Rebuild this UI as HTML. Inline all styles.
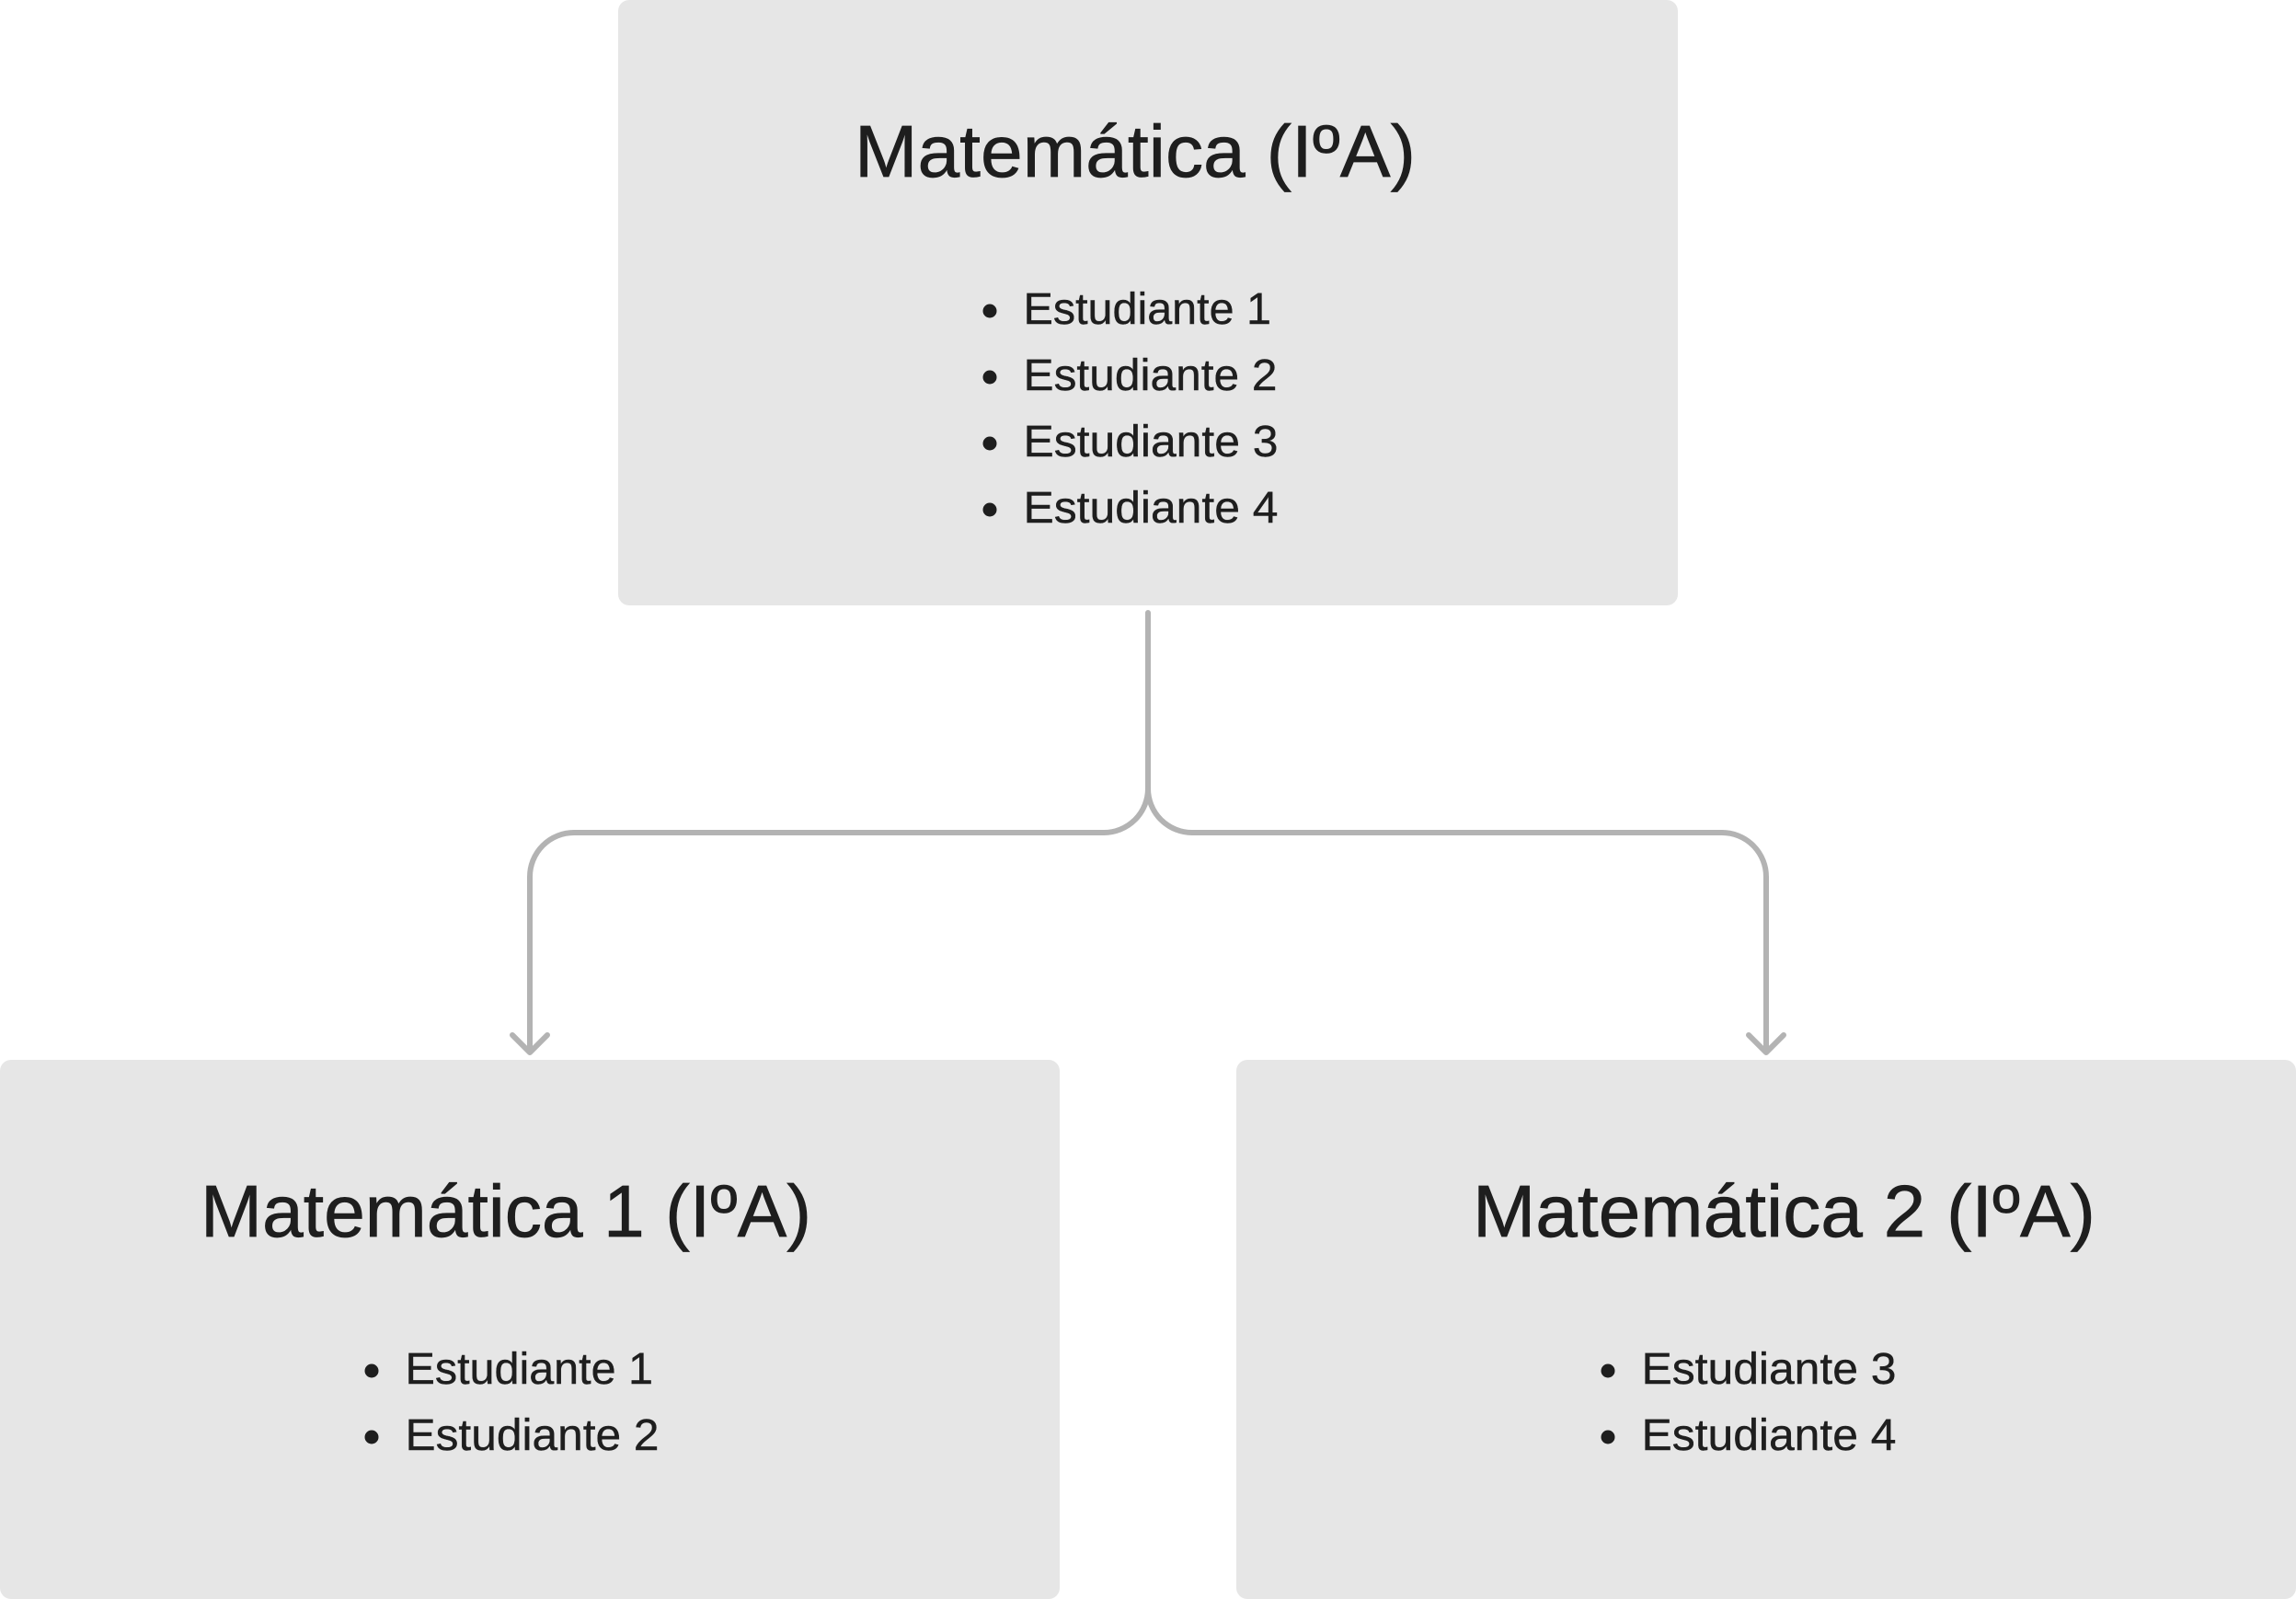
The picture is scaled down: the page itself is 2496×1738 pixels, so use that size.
<!DOCTYPE html>
<html lang="pt">
<head>
<meta charset="utf-8">
<title>Matemática (IºA)</title>
<style>
html,body{margin:0;padding:0;background:#fff;width:2496px;height:1738px;overflow:hidden}
svg{display:block}
text{font-family:"Liberation Sans",sans-serif;fill:#1e1e1e;stroke:#1e1e1e}
.t{font-size:80px;stroke-width:.7px}
.i{font-size:48px;stroke-width:.4px}
</style>
</head>
<body>
<svg width="2496" height="1738" viewBox="0 0 2496 1738" xmlns="http://www.w3.org/2000/svg">
<rect width="2496" height="1738" fill="#fff"/>
<rect x="672" y="0" width="1152" height="658" rx="12" fill="#e6e6e6"/>
<rect x="0" y="1152" width="1152" height="586" rx="12" fill="#e6e6e6"/>
<rect x="1344" y="1152" width="1152" height="586" rx="12" fill="#e6e6e6"/>

<g fill="none" stroke="#b3b3b3" stroke-width="6" stroke-linecap="round" stroke-linejoin="round">
<path d="M1248 666V857A48 48 0 0 1 1200 905H624A48 48 0 0 0 576 953V1143"/>
<path d="M1248 857A48 48 0 0 0 1296 905H1872A48 48 0 0 1 1920 953V1143"/>
<path d="M557 1125L576 1144L595 1125"/>
<path d="M1901 1125L1920 1144L1939 1125"/>
</g>

<text class="t" x="929" y="192" textLength="610" lengthAdjust="spacingAndGlyphs">Matemática (IºA)</text>
<text class="t" x="218" y="1344" textLength="664" lengthAdjust="spacingAndGlyphs">Matemática 1 (IºA)</text>
<text class="t" x="1601" y="1344" textLength="677" lengthAdjust="spacingAndGlyphs">Matemática 2 (IºA)</text>

<g fill="#1e1e1e">
<circle cx="1076" cy="338" r="7.5"/><circle cx="1076" cy="410" r="7.5"/><circle cx="1076" cy="482" r="7.5"/><circle cx="1076" cy="554" r="7.5"/>
<circle cx="404" cy="1490" r="7.5"/><circle cx="404" cy="1562" r="7.5"/>
<circle cx="1748" cy="1490" r="7.5"/><circle cx="1748" cy="1562" r="7.5"/>
</g>

<text class="i" x="1112.5" y="352" textLength="269.5" lengthAdjust="spacingAndGlyphs">Estudiante 1</text>
<text class="i" x="1112.5" y="424" textLength="276" lengthAdjust="spacingAndGlyphs">Estudiante 2</text>
<text class="i" x="1112.5" y="496" textLength="277" lengthAdjust="spacingAndGlyphs">Estudiante 3</text>
<text class="i" x="1112.5" y="568" textLength="277" lengthAdjust="spacingAndGlyphs">Estudiante 4</text>

<text class="i" x="440.5" y="1504" textLength="269.5" lengthAdjust="spacingAndGlyphs">Estudiante 1</text>
<text class="i" x="440.5" y="1576" textLength="276" lengthAdjust="spacingAndGlyphs">Estudiante 2</text>

<text class="i" x="1784.5" y="1504" textLength="277" lengthAdjust="spacingAndGlyphs">Estudiante 3</text>
<text class="i" x="1784.5" y="1576" textLength="277" lengthAdjust="spacingAndGlyphs">Estudiante 4</text>
</svg>
</body>
</html>
